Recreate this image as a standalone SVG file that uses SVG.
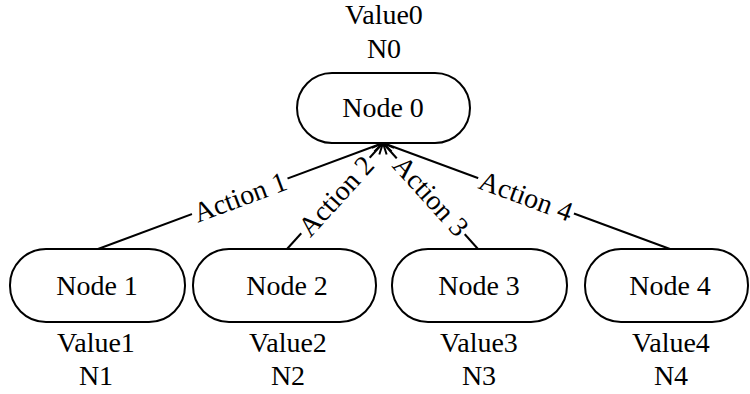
<svg xmlns="http://www.w3.org/2000/svg" width="750" height="394" viewBox="0 0 750 394">
<style>
.node{fill:#fff;stroke:#000;stroke-width:2}
.t{font-family:"Liberation Serif","Times New Roman",serif;font-size:28px;fill:#000;text-anchor:middle}
.edge{stroke:#000;stroke-width:2;fill:none;marker-end:url(#arr)}
.gap{fill:#fff}
</style>
<defs>
<marker id="arr" markerUnits="userSpaceOnUse" viewBox="0 0 13 12" markerWidth="13" markerHeight="12" refX="12" refY="6" orient="auto">
<path d="M1,1 L12,6 L1,11" fill="none" stroke="#000" stroke-width="2"/>
</marker>
</defs>
<rect width="750" height="394" fill="#fff"/>
<g id="connectors">
<line class="edge" x1="98" y1="249" x2="383" y2="143"/>
<line class="edge" x1="287" y1="249" x2="383" y2="143"/>
<line class="edge" x1="478" y1="249" x2="383" y2="143"/>
<line class="edge" x1="670" y1="249" x2="383" y2="143"/>
<g transform="translate(240,197) rotate(-20.4)"><rect class="gap" x="-51" y="-9" width="102" height="18"/><text class="t" y="0" dominant-baseline="central">Action 1</text></g>
<g transform="translate(336,196) rotate(-47.6)"><rect class="gap" x="-51" y="-9" width="102" height="18"/><text class="t" y="0" dominant-baseline="central">Action 2</text></g>
<g transform="translate(431,196) rotate(47.9)"><rect class="gap" x="-51" y="-9" width="102" height="18"/><text class="t" y="0" dominant-baseline="central">Action 3</text></g>
<g transform="translate(526,196) rotate(20.3)"><rect class="gap" x="-51" y="-9" width="102" height="18"/><text class="t" y="0" dominant-baseline="central">Action 4</text></g>
</g>
<g id="node0">
<rect class="node" x="297" y="73" width="173" height="70" rx="35" ry="35"/>
<text class="t" x="383" y="117">Node 0</text>
<text class="t" x="384" y="24">Value0</text>
<text class="t" x="384" y="58">N0</text>
</g>
<g id="node1">
<rect class="node" x="10" y="249" width="175" height="73" rx="36" ry="36"/>
<text class="t" x="97" y="295">Node 1</text>
<text class="t" x="96" y="352">Value1</text>
<text class="t" x="96" y="385">N1</text>
</g>
<g id="node2">
<rect class="node" x="193" y="249" width="183" height="73" rx="36" ry="36"/>
<text class="t" x="287" y="295">Node 2</text>
<text class="t" x="288" y="352">Value2</text>
<text class="t" x="288" y="385">N2</text>
</g>
<g id="node3">
<rect class="node" x="392" y="249" width="175" height="73" rx="36" ry="36"/>
<text class="t" x="479" y="295">Node 3</text>
<text class="t" x="479" y="352">Value3</text>
<text class="t" x="479" y="385">N3</text>
</g>
<g id="node4">
<rect class="node" x="585" y="249" width="163" height="73" rx="36" ry="36"/>
<text class="t" x="670" y="295">Node 4</text>
<text class="t" x="671" y="352">Value4</text>
<text class="t" x="671" y="385">N4</text>
</g>
</svg>
